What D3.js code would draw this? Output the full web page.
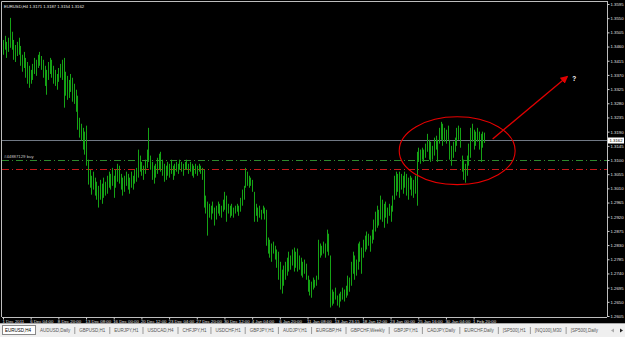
<!DOCTYPE html>
<html lang="en">
<head>
<meta charset="UTF-8">
<script src="https://d3js.org/d3.v7.min.js"></script>
<title>EURUSD,H4</title>
<style>
  body { margin: 0; background: #000; overflow: hidden; }
  svg text { font-family: "Liberation Sans", Arial, sans-serif; }
</style>
</head>
<body>
<div id="chart"></div>
<script>
// H4 bars, 1 Dec 2011 .. 3 Feb 2012
var highs = [
  1.3481,1.3494,1.3475,1.3488,1.3551,1.3507,1.3481,1.3465,1.3475,1.3488,
  1.3462,1.3434,1.3443,1.3424,1.3411,1.3399,1.3386,1.3405,1.3424,1.3418,
  1.3434,1.3443,1.3430,1.3418,1.3399,1.3386,1.3411,1.3424,1.3418,1.3399,
  1.3386,1.3373,1.3392,1.3405,1.3418,1.3424,1.3380,1.3367,1.3354,1.3373,
  1.3361,1.3342,1.3323,1.3304,1.3234,1.3215,1.3202,1.3190,1.3209,1.3101,
  1.3069,1.3050,1.3063,1.3044,1.3031,1.3018,1.3037,1.3025,1.3044,1.3031,
  1.3050,1.3063,1.3056,1.3075,1.3050,1.3069,1.3088,1.3082,1.3056,1.3044,
  1.3050,1.3063,1.3056,1.3044,1.3063,1.3050,1.3069,1.3075,1.3133,1.3114,
  1.3094,1.3082,1.3101,1.3133,1.3202,1.3114,1.3094,1.3082,1.3088,1.3107,
  1.3120,1.3126,1.3101,1.3088,1.3082,1.3094,1.3088,1.3101,1.3082,1.3088,
  1.3094,1.3088,1.3101,1.3094,1.3088,1.3094,1.3101,1.3088,1.3094,1.3088,
  1.3082,1.3088,1.3082,1.3088,1.3082,1.3075,1.3069,1.2987,1.2968,1.2961,
  1.2955,1.2968,1.2949,1.2955,1.2968,1.2961,1.2955,1.2974,1.2999,1.2987,
  1.2961,1.2955,1.2961,1.2949,1.2955,1.2961,1.2955,1.2980,1.3006,1.3018,
  1.3075,1.3063,1.3050,1.3044,1.3037,1.2999,1.2961,1.2949,1.2955,1.2942,
  1.2955,1.2949,1.2942,1.2854,1.2847,1.2835,1.2841,1.2828,1.2816,1.2809,
  1.2777,1.2752,1.2765,1.2777,1.2790,1.2809,1.2797,1.2816,1.2822,1.2809,
  1.2819,1.2797,1.2790,1.2777,1.2784,1.2771,1.2733,1.2720,1.2714,1.2727,
  1.2720,1.2733,1.2847,1.2835,1.2828,1.2841,1.2835,1.2879,1.2866,1.2797,
  1.2689,1.2682,1.2695,1.2670,1.2676,1.2682,1.2695,1.2689,1.2701,1.2733,
  1.2727,1.2777,1.2809,1.2797,1.2784,1.2835,1.2841,1.2822,1.2847,1.2860,
  1.2873,1.2866,1.2860,1.2879,1.2911,1.2936,1.2955,1.2942,1.2987,1.2974,
  1.2961,1.2968,1.2949,1.2961,1.2955,1.2987,1.3050,1.3063,1.3056,1.3063,
  1.3056,1.3050,1.3063,1.3056,1.3044,1.3050,1.3044,1.3037,1.3050,1.3126,
  1.3139,1.3133,1.3139,1.3133,1.3152,1.3183,1.3164,1.3158,1.3145,1.3171,
  1.3177,1.3164,1.3202,1.3221,1.3215,1.3202,1.3196,1.3209,1.3164,1.3145,
  1.3158,1.3171,1.3202,1.3209,1.3202,1.3114,1.3101,1.3088,1.3114,1.3152,
  1.3202,1.3215,1.3196,1.3190,1.3202,1.3190,1.3183,1.3190,1.3187
];
var lows = [
  1.3434,1.3450,1.3424,1.3443,1.3456,1.3450,1.3418,1.3411,1.3430,1.3434,
  1.3399,1.3380,1.3392,1.3361,1.3342,1.3329,1.3342,1.3354,1.3373,1.3367,
  1.3392,1.3399,1.3386,1.3361,1.3335,1.3307,1.3354,1.3373,1.3361,1.3342,
  1.3335,1.3323,1.3348,1.3361,1.3354,1.3266,1.3304,1.3291,1.3297,1.3316,
  1.3285,1.3278,1.3253,1.3196,1.3171,1.3161,1.3133,1.3117,1.3082,1.3022,
  1.3012,1.2990,1.3006,1.2987,1.2974,1.2949,1.2974,1.2961,1.2980,1.2987,
  1.2993,1.3012,1.3006,1.3018,1.2980,1.3012,1.3031,1.3025,1.3006,1.2987,
  1.2999,1.3018,1.3006,1.2993,1.3012,1.3006,1.3025,1.3031,1.3044,1.3063,
  1.3050,1.3037,1.3056,1.3075,1.3094,1.3069,1.3037,1.3025,1.3044,1.3056,
  1.3069,1.3063,1.3050,1.3031,1.3037,1.3050,1.3044,1.3056,1.3037,1.3050,
  1.3063,1.3056,1.3069,1.3063,1.3050,1.3069,1.3069,1.3056,1.3063,1.3050,
  1.3044,1.3056,1.3050,1.3063,1.3056,1.3037,1.2949,1.2930,1.2860,1.2917,
  1.2911,1.2930,1.2892,1.2911,1.2930,1.2923,1.2917,1.2936,1.2942,1.2904,
  1.2930,1.2917,1.2923,1.2917,1.2930,1.2936,1.2923,1.2936,1.2955,1.2974,
  1.3012,1.3018,1.3012,1.3018,1.2999,1.2904,1.2923,1.2904,1.2917,1.2911,
  1.2930,1.2911,1.2828,1.2803,1.2790,1.2777,1.2803,1.2784,1.2758,1.2720,
  1.2689,1.2676,1.2701,1.2720,1.2733,1.2746,1.2752,1.2765,1.2746,1.2758,
  1.2746,1.2752,1.2733,1.2727,1.2739,1.2720,1.2682,1.2670,1.2663,1.2689,
  1.2695,1.2701,1.2720,1.2790,1.2797,1.2803,1.2790,1.2809,1.2797,1.2632,
  1.2638,1.2644,1.2657,1.2638,1.2632,1.2651,1.2657,1.2651,1.2663,1.2670,
  1.2682,1.2701,1.2739,1.2720,1.2733,1.2752,1.2777,1.2739,1.2790,1.2809,
  1.2816,1.2828,1.2809,1.2835,1.2847,1.2873,1.2885,1.2892,1.2911,1.2904,
  1.2885,1.2917,1.2898,1.2923,1.2904,1.2936,1.2974,1.2987,1.2999,1.2980,
  1.3006,1.2993,1.3012,1.2987,1.2974,1.3006,1.2987,1.2980,1.2993,1.2955,
  1.3094,1.3088,1.3101,1.3094,1.3107,1.3126,1.3101,1.3094,1.3101,1.3114,
  1.3133,1.3094,1.3152,1.3164,1.3145,1.3158,1.3152,1.3164,1.3101,1.3082,
  1.3107,1.3126,1.3145,1.3164,1.3139,1.3063,1.3037,1.3028,1.3050,1.3082,
  1.3107,1.3158,1.3133,1.3145,1.3158,1.3133,1.3094,1.3139,1.3154
];

var symbol = 'EURUSD,H4';
var lastBar = [1.3171, 1.3187, 1.3154, 1.3162];   // open high low close
var bid = 1.3162;
var buyPrice = 1.3100;
var stopPrice = 1.3070;
var orderLabel = '#44887129 buy';

var priceTicks = [1.3595, 1.3550, 1.3505, 1.3460, 1.3415, 1.3370, 1.3325, 1.3280,
  1.3235, 1.3190, 1.3145, 1.3100, 1.3055, 1.3010, 1.2965, 1.2920, 1.2875, 1.2830,
  1.2785, 1.2740, 1.2695, 1.2650, 1.2605];

var timeLabels = ['1 Dec 2011', '6 Dec 04:00', '8 Dec 20:00', '13 Dec 08:00', '16 Dec 00:00',
  '20 Dec 12:00', '23 Dec 04:00', '27 Dec 20:00', '30 Dec 12:00', '4 Jan 04:00', '6 Jan 20:00',
  '11 Jan 08:00', '13 Jan 23:15', '18 Jan 12:00', '23 Jan 00:00', '25 Jan 16:00',
  '30 Jan 04:00', '1 Feb 20:00'];
var barsPerLabel = 16;

var tabs = ['EURUSD,H4', 'AUDUSD,Daily', 'GBPUSD,H1', 'EURJPY,H1', 'USDCAD,H4', 'CHFJPY,H1',
  'USDCHF,H1', 'GBPJPY,H1', 'AUDJPY,H1', 'EURGBP,H4', 'GBPCHF,Weekly', 'GBPJPY,H1',
  'CADJPY,Daily', 'EURCHF,Daily', '[SP500],H1', '[NQ100],M30', '[SP500],Daily'];

// drawing objects (bar index / price)
var ellipseBars = [229, 296];
var ellipsePrices = [1.3237, 1.3022];
var arrowFrom = [283, 1.3167];
var arrowTo = [326, 1.3364];
var questionAt = [329, 1.3352];

var width = 625, height = 337;
var plotL = 2, plotR = 607, plotT = 2, plotB = 317;

var x = d3.scaleLinear().domain([0, highs.length - 1]).range([3, 484]);
var y = d3.scaleLinear().domain([1.2605, 1.3595]).range([316, 4]);
var fmt = d3.format('.4f');

var svg = d3.select('#chart').append('svg')
    .attr('width', width).attr('height', height);

svg.append('rect').attr('width', width).attr('height', height).attr('fill', '#000');

svg.append('clipPath').attr('id', 'plot')
  .append('rect').attr('x', plotL).attr('y', plotT)
    .attr('width', plotR - plotL).attr('height', plotB - plotT);

var plot = svg.append('g').attr('clip-path', 'url(#plot)');

// order lines
plot.append('line')
    .attr('x1', plotL).attr('x2', plotR)
    .attr('y1', Math.round(y(buyPrice)) + 0.5).attr('y2', Math.round(y(buyPrice)) + 0.5)
    .attr('stroke', '#2c8a2c').attr('stroke-dasharray', '7,3,1,3');
plot.append('line')
    .attr('x1', plotL).attr('x2', plotR)
    .attr('y1', Math.round(y(stopPrice)) + 0.5).attr('y2', Math.round(y(stopPrice)) + 0.5)
    .attr('stroke', '#c41a1a').attr('stroke-dasharray', '7,3,1,3');
// bid line
plot.append('line')
    .attr('x1', plotL).attr('x2', plotR)
    .attr('y1', Math.round(y(bid)) + 0.5).attr('y2', Math.round(y(bid)) + 0.5)
    .attr('stroke', '#707884');

plot.append('text')
    .attr('x', 4).attr('y', y(buyPrice) - 2)
    .attr('fill', '#c8c8c8').attr('font-size', 4.3)
    .text(orderLabel);

// bars
plot.selectAll('line.bar')
  .data(highs)
  .enter().append('line')
    .attr('class', 'bar')
    .attr('x1', function(d, i) { return Math.round(x(i)) + 0.5; })
    .attr('x2', function(d, i) { return Math.round(x(i)) + 0.5; })
    .attr('y1', function(d) { return y(d); })
    .attr('y2', function(d, i) { return y(lows[i]); })
    .attr('stroke', '#15a315')
    .attr('stroke-width', 1);

// ellipse
plot.append('ellipse')
    .attr('cx', (x(ellipseBars[0]) + x(ellipseBars[1])) / 2)
    .attr('cy', (y(ellipsePrices[0]) + y(ellipsePrices[1])) / 2)
    .attr('rx', (x(ellipseBars[1]) - x(ellipseBars[0])) / 2)
    .attr('ry', (y(ellipsePrices[1]) - y(ellipsePrices[0])) / 2)
    .attr('fill', 'none').attr('stroke', '#e80000').attr('stroke-width', 1.1);

// arrow
svg.append('defs').append('marker')
    .attr('id', 'head').attr('viewBox', '0 0 10 10')
    .attr('refX', 8).attr('refY', 5)
    .attr('markerWidth', 6).attr('markerHeight', 6)
    .attr('orient', 'auto')
  .append('path').attr('d', 'M0,0L10,5L0,10Z').attr('fill', '#e00000');

plot.append('line')
    .attr('x1', x(arrowFrom[0])).attr('y1', y(arrowFrom[1]))
    .attr('x2', x(arrowTo[0])).attr('y2', y(arrowTo[1]))
    .attr('stroke', '#e00000').attr('stroke-width', 1.3)
    .attr('marker-end', 'url(#head)');

plot.append('text')
    .attr('x', x(questionAt[0])).attr('y', y(questionAt[1]))
    .attr('fill', '#fff').attr('font-size', 6.5).attr('font-weight', 'bold')
    .text('?');

// title
svg.append('text')
    .attr('x', 4).attr('y', 7.5)
    .attr('fill', '#e8e8e8').attr('font-size', 4.2)
    .text(symbol + ' ' + lastBar.map(fmt).join(' '));

// frame
svg.append('path')
    .attr('d', 'M1.5,' + plotB + 'V1.5H' + plotR)
    .attr('fill', 'none').attr('stroke', '#bdbdbd');

// price axis
var yAxis = svg.append('g')
    .attr('transform', 'translate(' + (plotR + 0.5) + ',0)')
    .call(d3.axisRight(y).tickValues(priceTicks).tickFormat(fmt).tickSize(2).tickPadding(1));
yAxis.select('.domain').attr('stroke', '#bdbdbd').attr('d', 'M0,1V' + plotB);
yAxis.selectAll('.tick line').attr('stroke', '#d0d0d0');
yAxis.selectAll('.tick text').attr('fill', '#e0e0e0').attr('font-size', 4.3)
    .attr('font-family', '"Liberation Sans", Arial, sans-serif');

// bid label
var bidY = Math.round(y(bid)) + 0.5;
svg.append('rect')
    .attr('x', plotR + 1).attr('y', bidY - 3)
    .attr('width', 16).attr('height', 6).attr('fill', '#fff');
svg.append('text')
    .attr('x', plotR + 2.5).attr('y', bidY + 1.6)
    .attr('fill', '#000').attr('font-size', 4.3)
    .text(fmt(bid));

// time axis
var labelBars = timeLabels.map(function(d, i) { return i * barsPerLabel; });
var xAxis = svg.append('g')
    .attr('transform', 'translate(0,' + (plotB + 0.5) + ')')
    .call(d3.axisBottom(x).tickValues(labelBars)
      .tickFormat(function(d, i) { return timeLabels[i]; })
      .tickSize(2).tickPadding(0));
xAxis.select('.domain').attr('stroke', '#bdbdbd').attr('d', 'M' + plotL + ',0H' + plotR);
xAxis.selectAll('.tick line').attr('stroke', '#d0d0d0');
xAxis.selectAll('.tick text')
    .attr('fill', '#e0e0e0').attr('font-size', 4.3)
    .attr('font-family', '"Liberation Sans", Arial, sans-serif')
    .attr('text-anchor', 'start').attr('x', -1).attr('dy', '0.9em');

// tab bar
var tabY = 323;
svg.append('rect').attr('x', 0).attr('y', tabY)
    .attr('width', width).attr('height', height - tabY).attr('fill', '#efefef');
svg.append('line').attr('x1', 0).attr('x2', width)
    .attr('y1', tabY + 0.5).attr('y2', tabY + 0.5).attr('stroke', '#a8a8a8');

var tabG = svg.append('g');
var cursor = 5;
tabs.forEach(function(name, i) {
  var t = tabG.append('text')
      .attr('x', cursor).attr('y', 331.5)
      .attr('fill', i === 0 ? '#000' : '#555')
      .attr('font-size', 4.5)
      .text(name);
  var w = t.node().getComputedTextLength();
  if (i === 0) {
    tabG.insert('rect', 'text')
        .attr('x', cursor - 3 + 0.5).attr('y', tabY + 2.5)
        .attr('width', w + 7).attr('height', 9)
        .attr('fill', '#fff').attr('stroke', '#888');
    cursor += w + 9;
  } else {
    cursor += w + 4;
    if (i < tabs.length - 1) {
      tabG.append('line')
          .attr('x1', cursor + 0.5).attr('x2', cursor + 0.5)
          .attr('y1', 327).attr('y2', 334)
          .attr('stroke', '#999');
    }
    cursor += 5;
  }
});

// scroll arrows
svg.append('path').attr('d', 'M611,330.5l3,-2v4z').attr('fill', '#aaa');
svg.append('path').attr('d', 'M623,330.5l-3,-2v4z').attr('fill', '#222');
</script>
</body>
</html>
